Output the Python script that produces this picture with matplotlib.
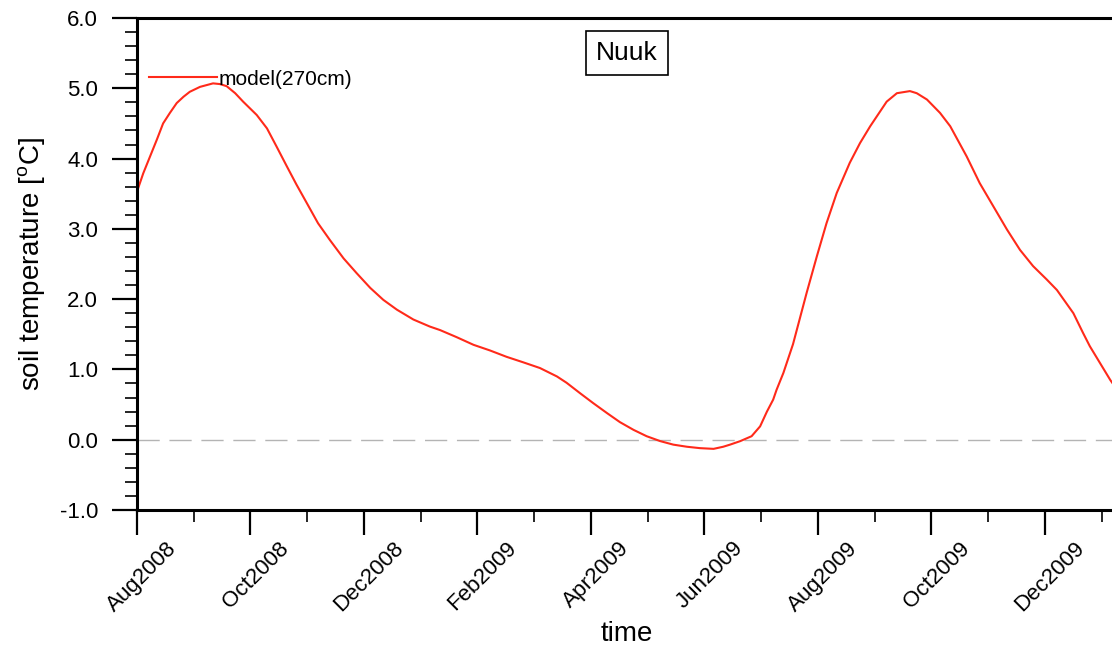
import matplotlib.pyplot as plt
import matplotlib.transforms as mtransforms
import numpy as np

plt.rcParams['font.family'] = ['Liberation Sans', 'DejaVu Sans']

# months since 1 Aug 2008 and soil temperature
months = [0.00, 0.11, 0.23, 0.35, 0.46, 0.58, 0.70, 0.82, 0.93, 1.11, 1.34, 1.46, 1.58, 1.73,
          1.87, 2.11, 2.29, 2.46, 2.64, 2.81, 2.99, 3.19, 3.40, 3.64, 3.87, 4.11, 4.34, 4.58,
          4.87, 5.16, 5.34, 5.63, 5.93, 6.22, 6.51, 6.81, 7.10, 7.40, 7.57, 7.81, 8.04, 8.28,
          8.51, 8.75, 8.98, 9.22, 9.45, 9.69, 9.92, 10.16, 10.33, 10.45, 10.63, 10.83, 10.98,
          11.10, 11.21, 11.27, 11.39, 11.56, 11.80, 11.98, 12.15, 12.33, 12.56, 12.74, 12.92,
          13.21, 13.39, 13.62, 13.74, 13.92, 14.15, 14.33, 14.62, 14.85, 15.09, 15.33, 15.56,
          15.79, 16.03, 16.21, 16.50, 16.67, 16.79, 16.97, 17.15, 17.41]
soil_temp = [3.53, 3.79, 4.03, 4.27, 4.50, 4.65, 4.79, 4.88, 4.95, 5.02, 5.07, 5.06, 5.03, 4.93,
             4.81, 4.62, 4.43, 4.17, 3.89, 3.63, 3.37, 3.08, 2.84, 2.58, 2.37, 2.16, 1.99, 1.85,
             1.71, 1.61, 1.56, 1.46, 1.35, 1.27, 1.18, 1.10, 1.02, 0.90, 0.81, 0.66, 0.52, 0.38,
             0.25, 0.14, 0.05, -0.02, -0.07, -0.10, -0.12, -0.13, -0.10, -0.07, -0.02, 0.05, 0.19,
             0.40, 0.57, 0.71, 0.95, 1.36, 2.09, 2.61, 3.08, 3.51, 3.94, 4.22, 4.46,
             4.81, 4.93, 4.96, 4.93, 4.84, 4.65, 4.46, 4.03, 3.65, 3.32, 2.99, 2.70,
             2.47, 2.28, 2.13, 1.80, 1.52, 1.33, 1.09, 0.85, 0.55]

tick_months = [0, 2, 4, 6, 8, 10, 12, 14, 16]
tick_labels = ['Aug2008', 'Oct2008', 'Dec2008', 'Feb2009', 'Apr2009',
               'Jun2009', 'Aug2009', 'Oct2009', 'Dec2009']

W, H = 1112, 662
fig = plt.figure(figsize=(W / 100, H / 100), dpi=100)
left, right, top, bottom = 137, 1117, 18, 510
ax = fig.add_axes([left / W, 1 - bottom / H, (right - left) / W, (bottom - top) / H])

ax.axhline(0, color='#b4b4b4', lw=1, linestyle=(0, (16, 7)), zorder=1)
ax.plot(months, soil_temp, color='#ff2a1a', lw=1.5, label='model(270cm)', zorder=2)

ax.set_xlim(0, (right - left) / 56.75)
ax.set_ylim(-1, 6)

ax.set_xticks(tick_months)
ax.set_xticklabels(tick_labels, rotation=45, fontsize=16)
ax.set_xticks(np.arange(1, 18, 2), minor=True)
ax.set_yticks(np.arange(-1, 7, 1))
ax.set_yticklabels([f'{v:.1f}' for v in np.arange(-1, 7, 1)], fontsize=16)
ax.set_yticks(np.arange(-1, 6.01, 0.2), minor=True)

ax.tick_params(axis='both', which='major', direction='out', length=18, width=1.6)
ax.tick_params(axis='both', which='minor', direction='out', length=8.5, width=1.2)
ax.tick_params(axis='y', which='major', pad=10)
ax.tick_params(axis='x', which='major', pad=2)
for s in ax.spines.values():
    s.set_linewidth(2.2)

# nudge the rotated date labels a little to the right, like the original
shift = mtransforms.ScaledTranslation(5 / 100, 0, fig.dpi_scale_trans)
for lbl in ax.get_xticklabels():
    lbl.set_transform(lbl.get_transform() + shift)

ax.set_ylabel('soil temperature [$\\mathregular{^oC}$]', fontsize=20, labelpad=9)
ax.set_xlabel('time', fontsize=20, labelpad=4)

ax.text(0.5, 0.928, 'Nuuk', transform=ax.transAxes, ha='center', va='center', fontsize=19,
        bbox=dict(boxstyle='square,pad=0.38', fc='white', ec='black', lw=1.2))

ax.legend(loc='center left', bbox_to_anchor=(-0.003, 0.876), frameon=False, fontsize=15,
          handlelength=3.3, handletextpad=0.05, borderaxespad=0.3)

fig.savefig('out.png', dpi=100)
